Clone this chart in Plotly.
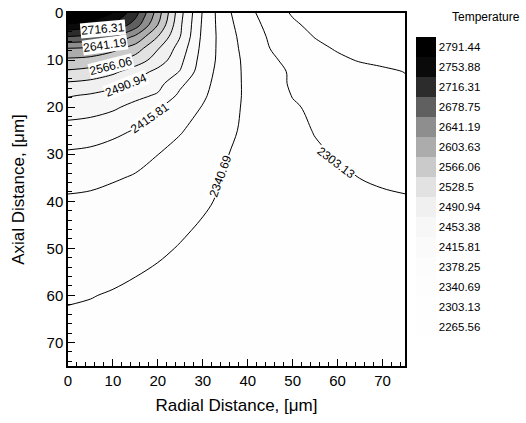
import plotly.graph_objects as go

# Grid coordinates (µm)
radial = [0, 5, 10, 15, 20, 25, 30, 35, 40, 45, 50, 55, 60, 65, 70, 75]
axial = [0, 2.5, 5, 7.5, 10, 12.5, 15, 17.5, 20, 25, 30, 35, 40, 50, 60, 70, 75]

# Temperature values estimated from the reference contours (rows = axial, cols = radial)
temperature = [
    [2860, 2835, 2791.4, 2731.3, 2622.4, 2502.2, 2412.7, 2350.6, 2313.4, 2284.9, 2262, 2250, 2242, 2237, 2233, 2230],
    [2785, 2772, 2752, 2699.1, 2603.6, 2496.4, 2409.8, 2354.5, 2318.9, 2292.8, 2271.2, 2256, 2248, 2243, 2239, 2237],
    [2716, 2708, 2681, 2634.4, 2566, 2490.9, 2406.9, 2358.5, 2323.6, 2298.6, 2281.4, 2264, 2256, 2250, 2246, 2244],
    [2641, 2635, 2615, 2585.7, 2531.1, 2475.1, 2403.9, 2359.9, 2327.3, 2302.8, 2288.5, 2274.2, 2262, 2256, 2252, 2251],
    [2596, 2591, 2576, 2548.6, 2512.2, 2462.8, 2399.8, 2361.3, 2330.7, 2308.1, 2294.5, 2283.5, 2272.4, 2263, 2259, 2258],
    [2560, 2552, 2536, 2509.4, 2479.7, 2451.3, 2394.1, 2360.5, 2332.4, 2312.6, 2299.4, 2292.2, 2285, 2277.8, 2270.6, 2265],
    [2523, 2517, 2503, 2483.7, 2465.7, 2423.3, 2388.8, 2358.9, 2333.5, 2315.6, 2299, 2292, 2285, 2280, 2274, 2269],
    [2494, 2487, 2476, 2463, 2449.3, 2407.6, 2383.5, 2357, 2334.3, 2318.2, 2302, 2296, 2290, 2284, 2278, 2272],
    [2474, 2469, 2459, 2443, 2419.6, 2397.9, 2376.4, 2353.5, 2334.5, 2320.4, 2306.2, 2298, 2293, 2288, 2282, 2276],
    [2437, 2433, 2425, 2413.5, 2397.2, 2380.8, 2364.4, 2347.9, 2334.5, 2323.5, 2312.5, 2301.5, 2297, 2293, 2289, 2284],
    [2411, 2408, 2400, 2388, 2378.6, 2366.5, 2354.3, 2342.2, 2333.1, 2324.6, 2316, 2307.4, 2301, 2296.5, 2293, 2290],
    [2390, 2386, 2381, 2375.8, 2366.5, 2357.2, 2347.9, 2339.4, 2333.3, 2327.2, 2321.1, 2315, 2308.9, 2302.8, 2300, 2298],
    [2373, 2372, 2368, 2362, 2355, 2349, 2343, 2338, 2333, 2328, 2323, 2318, 2314, 2310, 2307, 2305.5],
    [2356, 2355, 2352, 2348, 2344, 2339.5, 2336, 2332, 2329, 2326, 2323, 2321, 2318, 2316, 2314, 2313],
    [2343, 2341.5, 2339, 2336, 2333, 2330, 2328, 2326, 2324, 2322, 2320, 2318.5, 2317, 2316, 2315, 2314],
    [2332, 2331, 2330, 2328, 2326, 2324.5, 2323, 2322, 2321, 2320, 2319, 2318, 2317, 2316, 2315.5, 2315],
    [2330, 2329.5, 2328.5, 2327, 2325.5, 2324, 2323, 2322, 2321, 2320, 2319, 2318, 2317.5, 2317, 2316.5, 2316],
]

# Contour levels / colorbar tick labels (ascending)
levels = [2265.56, 2303.13, 2340.69, 2378.25, 2415.81, 2453.38, 2490.94, 2528.5,
          2566.06, 2603.63, 2641.19, 2678.75, 2716.31, 2753.88, 2791.44]
level_labels = ["2265.56", "2303.13", "2340.69", "2378.25", "2415.81", "2453.38", "2490.94", "2528.5",
                "2566.06", "2603.63", "2641.19", "2678.75", "2716.31", "2753.88", "2791.44"]
# gray shade of the band that starts at each level
band_colors = ["#fefefe", "#fefefe", "#fdfdfd", "#fcfcfc", "#fafafa", "#f7f7f7", "#f0f0f0", "#e2e2e2",
               "#cacaca", "#acacac", "#8e8e8e", "#606060", "#2c2c2c", "#0a0a0a", "#000000"]
band_step = 37.5625

# contour lines that carry an in-plot label (index into levels)
labeled_levels = [12, 10, 8, 6, 4, 2, 1]

x_ticks = [0, 10, 20, 30, 40, 50, 60, 70]
y_ticks = [0, 10, 20, 30, 40, 50, 60, 70]

FONT = "Liberation Sans, Arial, Helvetica, sans-serif"
n = len(levels)

# fill colorscale: region j (0 = below first level) sampled at j/n
fill_scale = [[0.0, "#ffffff"]] + [[(k + 1) / n, band_colors[k]] for k in range(n)]
# stepped colorbar scale: one band per level, label at band centre
bar_scale = []
for k in range(n):
    bar_scale.append([k / n, band_colors[k]])
    bar_scale.append([(k + 1) / n, band_colors[k]])

fig = go.Figure()

# filled bands
fig.add_trace(go.Contour(
    x=radial, y=axial, z=temperature,
    autocontour=False, showscale=False,
    contours=dict(start=levels[0], end=levels[-1], size=band_step, coloring="fill", showlines=False),
    colorscale=fill_scale,
    line=dict(width=0),
    hoverinfo="skip",
))

# contour lines
fig.add_trace(go.Contour(
    x=radial, y=axial, z=temperature,
    autocontour=False, showscale=False,
    contours=dict(start=levels[0], end=levels[-1], size=band_step, coloring="none"),
    line=dict(color="black", width=1),
    hoverinfo="skip",
))

# stepped colorbar
fig.add_trace(go.Scatter(
    x=[None] * n, y=[None] * n, mode="markers",
    marker=dict(
        color=levels, colorscale=bar_scale,
        cmin=levels[0] - band_step / 2, cmax=levels[-1] + band_step / 2,
        showscale=True,
        colorbar=dict(
            x=1.0326, xanchor="left", xpad=0, thickness=20,
            y=0.932, yanchor="top", ypad=0, len=0.85, lenmode="fraction",
            tickvals=levels, ticktext=level_labels, ticks="",
            tickfont=dict(family=FONT, size=11.5, color="black"),
            outlinewidth=0,
        ),
    ),
    hoverinfo="skip", showlegend=False,
))

# in-plot contour labels (placement of each label on its line)
label_place = {
    12: (7.7, 3.5, -5),
    10: (8.2, 6.7, -8),
    8: (9.6, 11.2, -14),
    6: (13.0, 15.2, -22),
    4: (18.2, 22.3, -35),
    2: (34.0, 34.7, -70),
    1: (59.7, 31.9, 37),
}
annotations = []
for idx in labeled_levels:
    lx, ly, ang = label_place[idx]
    annotations.append(dict(
        text=level_labels[idx], x=lx, y=ly, xref="x", yref="y", showarrow=False,
        textangle=ang, bgcolor="white", borderpad=0,
        font=dict(family=FONT, size=12, color="black"),
    ))
annotations.append(dict(
    text="Temperature", xref="paper", yref="paper", x=1.347, y=0.989,
    xanchor="right", yanchor="middle", showarrow=False,
    font=dict(family=FONT, size=12, color="black"),
))

axis_common = dict(
    showgrid=False, zeroline=False, showline=True, linecolor="black", linewidth=1.5, mirror=True,
    ticks="inside", ticklen=7, tickcolor="black", tickwidth=1,
    minor=dict(ticks="inside", ticklen=4, dtick=2, tickcolor="black"),
    tickfont=dict(family=FONT, size=15, color="black"),
    automargin=False,
)

fig.update_layout(
    width=526, height=423,
    margin=dict(l=68, r=121, t=13, b=57, autoexpand=False),
    paper_bgcolor="white", plot_bgcolor="white",
    showlegend=False,
    xaxis=dict(range=[0, 75], tickvals=x_ticks,
               title=dict(text="Radial Distance, [μm]", font=dict(family=FONT, size=17, color="black"), standoff=11),
               **axis_common),
    yaxis=dict(range=[75, 0], tickvals=y_ticks,
               title=dict(text="Axial Distance, [μm]", font=dict(family=FONT, size=17, color="black"), standoff=18),
               **axis_common),
    annotations=annotations,
)

fig.write_html("out.html", config={"displayModeBar": False},
               post_script="document.body.style.margin='0px';")
